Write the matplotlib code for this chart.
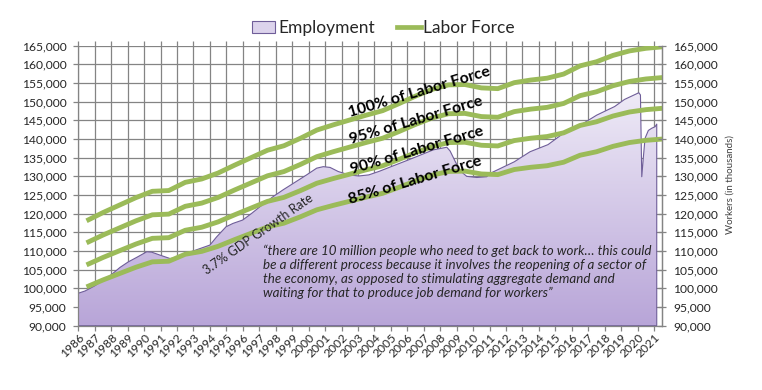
import matplotlib
matplotlib.use("Agg")
import matplotlib.pyplot as plt
import numpy as np
from matplotlib.patches import Patch, PathPatch
from matplotlib.lines import Line2D
from matplotlib.colors import LinearSegmentedColormap
from matplotlib.ticker import FuncFormatter, MultipleLocator

plt.rcParams['font.family'] = ['Lato', 'DejaVu Sans']

# ---------------- data ----------------
years = list(range(1986, 2022))
labor_force = [118100, 120300, 122300, 124300, 126000, 126200, 128400, 129300,
               130900, 133000, 135000, 137000, 138200, 140200, 142400, 143800,
               145100, 146400, 147600, 149500, 151500, 153300, 154500, 154600,
               153700, 153500, 155100, 155800, 156300, 157400, 159600, 160700,
               162400, 163600, 164300, 164700]
shares = [1.00, 0.95, 0.90, 0.85]
share_labels = ["100% of Labor Force", "95% of Labor Force",
                "90% of Labor Force", "85% of Labor Force"]

emp_time = [1986.00, 1986.41, 1986.97, 1987.99, 1988.53, 1989.04, 1989.55,
            1990.16, 1990.46, 1990.97, 1991.57, 1992.10, 1992.97, 1994.00,
            1994.41, 1994.98, 1995.40, 1995.99, 1996.54, 1997.05, 1997.85,
            1998.45, 1999.06, 1999.88, 2000.49, 2000.89, 2001.30, 2001.80,
            2002.45, 2003.05, 2003.66, 2004.26, 2006.06, 2007.58, 2008.40,
            2008.60, 2008.91, 2009.21, 2009.61, 2010.22, 2010.83, 2011.03,
            2012.50, 2013.46, 2014.55, 2015.48, 2016.55, 2017.51, 2018.60,
            2019.20, 2020.07, 2020.17, 2020.25, 2020.35, 2020.45, 2020.65,
            2020.86, 2021.06, 2021.16]
emp_values = [98700, 99300, 100600, 103600, 105600, 107100, 108300,
              109800, 109700, 108900, 108000, 108300, 110000, 111600,
              113800, 116500, 117400, 118300, 120100, 121900, 124600,
              126400, 128100, 130400, 132200, 132600, 132400, 131300,
              130400, 130100, 130400, 131300, 134400, 137100, 137800,
              136800, 134000, 131500, 130000, 129700, 129900, 130800,
              133900, 136600, 138500, 141500, 143800, 146400, 148700,
              150600, 152400, 151800, 129900, 135300, 140200, 142300,
              142900, 143300, 144000]

gdp_label = "3.7% GDP Growth Rate"
quote = ("\u201cthere are 10 million people who need to get back to work\u2026 this could\n"
         "be a different process because it involves the reopening of a sector of\n"
         "the economy, as opposed to stimulating aggregate demand and\n"
         "waiting for that to produce job demand for workers\u201d")

y_min, y_max, y_step = 90000, 165000, 5000
x_min, x_max = 1986, 2021.48

# ---------------- figure ----------------
W, H = 762, 390
fig = plt.figure(figsize=(W / 100, H / 100), dpi=100)
L, R, T, B = 78.3, 662, 45.7, 325.7
ax = fig.add_axes([L / W, 1 - B / H, (R - L) / W, (B - T) / H])
ax.set_xlim(x_min, x_max)
ax.set_ylim(y_min, y_max)

grid_c = '#848484'
txt_c = '#262626'
green = '#9BBB59'

ax.set_axisbelow(True)
ax.xaxis.set_major_locator(MultipleLocator(1))
ax.yaxis.set_major_locator(MultipleLocator(y_step))
ax.grid(True, color=grid_c, lw=0.9, zorder=0)

# employment area with vertical gradient
poly = ax.fill_between(emp_time, emp_values, y_min, facecolor='none',
                       edgecolor='#6F5E99', lw=0.8, zorder=2)
path = poly.get_paths()[0]
clip = PathPatch(path, transform=ax.transData, facecolor='none', edgecolor='none')
ax.add_patch(clip)
cmap = LinearSegmentedColormap.from_list('emp', ['#B8A5D8', '#EFEBF7'])
grad = np.linspace(0, 1, 256).reshape(-1, 1)
im = ax.imshow(grad, cmap=cmap, origin='lower', aspect='auto',
               extent=[x_min, x_max, y_min, 153000], zorder=1,
               interpolation='bilinear')
im.set_clip_path(clip)

# labor force lines
x_lf = [y + 0.5 for y in years]
for s in shares:
    ax.plot(x_lf, [s * v for v in labor_force], color=green, lw=3.5,
            solid_capstyle='butt', solid_joinstyle='round', zorder=3)

# axes styling
for sp in ['left', 'right', 'bottom', 'top']:
    ax.spines[sp].set_color(grid_c)
    ax.spines[sp].set_linewidth(0.9)
ax.spines['top'].set_visible(False)

fmt = FuncFormatter(lambda v, p: f"{int(v):,}")
ax.yaxis.set_major_formatter(fmt)
ax.tick_params(axis='y', which='major', direction='out', length=3.5, width=0.9,
               color=grid_c, labelsize=8.7, labelcolor=txt_c, pad=5)
ax.tick_params(axis='x', which='major', direction='out', length=3.5, width=0.9,
               color=grid_c, labelsize=8.7, labelcolor=txt_c, pad=1,
               top=True)
ax.set_xticks(years)
ax.set_xticklabels([str(y) for y in years], rotation=45, ha='right', va='top',
                   rotation_mode='anchor')

ax2 = ax.twinx()
ax2.set_ylim(y_min, y_max)
ax2.yaxis.set_major_locator(MultipleLocator(y_step))
ax2.yaxis.set_major_formatter(fmt)
ax2.tick_params(axis='y', direction='inout', length=6, width=0.9, color=grid_c,
                labelsize=8.7, labelcolor=txt_c, pad=5)
for sp in ['left', 'right', 'bottom', 'top']:
    ax2.spines[sp].set_visible(False)
ax2.spines['right'].set_visible(True)
ax2.spines['right'].set_color(grid_c)
ax2.spines['right'].set_linewidth(0.9)

fig.text(730 / W, 1 - 185 / H, "Workers (in thousands)", rotation=90,
         ha='center', va='center', fontsize=7, color='#404040')

# annotations (pixel-located)
def px(xp, yp):
    return (xp / W, 1 - yp / H)

label_pos = [(419, 92), (416, 121), (417, 151), (415, 181)]
for lab, (xp, yp) in zip(share_labels, label_pos):
    fig.text(*px(xp, yp), lab, rotation=16.5, rotation_mode='anchor',
             ha='center', va='center', fontsize=11.4, fontweight='bold',
             color='black', zorder=5)

fig.text(*px(258, 234), gdp_label, rotation=35, rotation_mode='anchor',
         ha='center', va='center', fontsize=9, color=txt_c, zorder=5)

fig.text(263 / W, 1 - 245 / H, quote, ha='left', va='top', fontsize=9.6,
         style='italic', color=txt_c, linespacing=1.17, zorder=5)

# legend
handles = [Patch(facecolor='#DCD3EC', edgecolor='#6F5E99', lw=0.8),
           Line2D([0], [0], color=green, lw=3.4)]
fig.legend(handles, ['Employment', 'Labor Force'], loc='center',
           bbox_to_anchor=(0.503, 1 - 28 / H), ncol=2, frameon=False,
           fontsize=12.5, handlelength=1.35, handletextpad=0.15,
           columnspacing=1.3, labelcolor=txt_c)

fig.savefig('out.png', dpi=100)
